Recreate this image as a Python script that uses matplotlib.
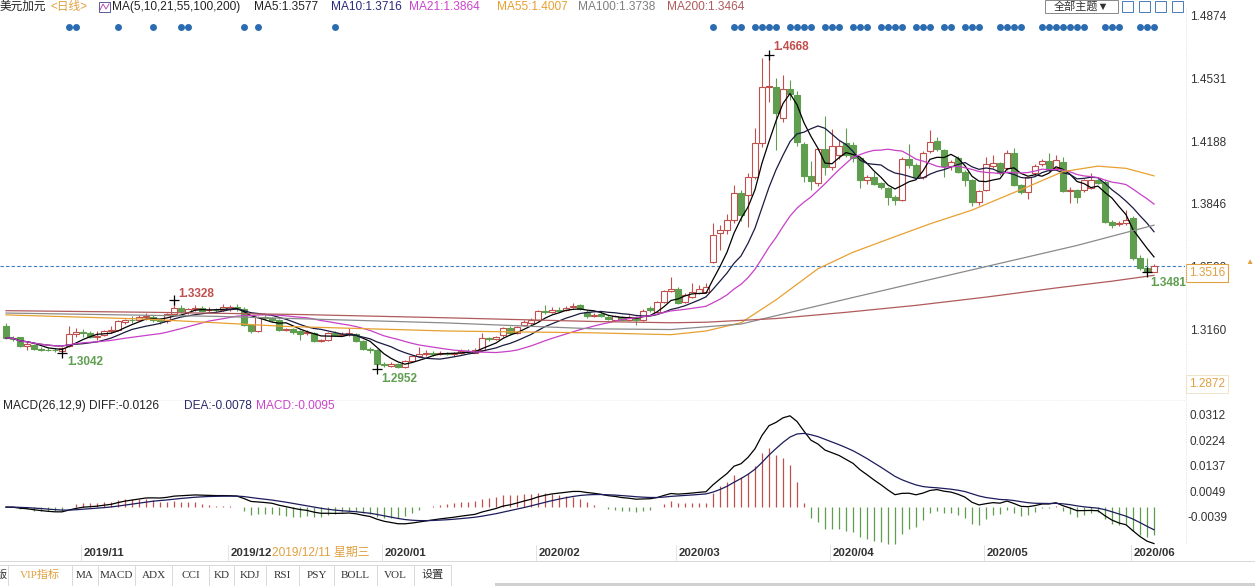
import numpy as np
import pandas as pd
import matplotlib
matplotlib.use("Agg")
import matplotlib.pyplot as plt
import matplotlib.transforms as mtransforms
from matplotlib.patches import Rectangle
from matplotlib.lines import Line2D

plt.rcParams['font.family'] = ['Liberation Sans', 'Noto Sans CJK SC', 'DejaVu Sans']

# ---- daily candles (USD/CAD) ----
opens = [
    1.3190, 1.3122, 1.3125, 1.3078, 1.3085, 1.3064, 1.3058, 1.3056, 1.3050, 1.3078,
    1.3145, 1.3152, 1.3150, 1.3130, 1.3138, 1.3160, 1.3168, 1.3208, 1.3220, 1.3220,
    1.3236, 1.3238, 1.3218, 1.3212, 1.3255, 1.3287, 1.3265, 1.3278, 1.3285, 1.3272,
    1.3276, 1.3272, 1.3280, 1.3290, 1.3282, 1.3195, 1.3162, 1.3235, 1.3232, 1.3222,
    1.3165, 1.3172, 1.3160, 1.3148, 1.3150, 1.3105, 1.3112, 1.3150, 1.3140, 1.3145,
    1.3142, 1.3105, 1.3062, 1.3058, 1.2978, 1.2970, 1.2980, 1.2965, 1.2995, 1.3022,
    1.3035, 1.3040, 1.3035, 1.3040, 1.3032, 1.3038, 1.3052, 1.3042, 1.3056, 1.3120,
    1.3116, 1.3138, 1.3178, 1.3150, 1.3193, 1.3202, 1.3220, 1.3270, 1.3266, 1.3275,
    1.3275, 1.3290, 1.3302, 1.3266, 1.3240, 1.3252, 1.3238, 1.3222, 1.3235, 1.3222,
    1.3236, 1.3222, 1.3283, 1.3266, 1.3320, 1.3380, 1.3392, 1.3320, 1.3347, 1.3365,
    1.3374, 1.3538, 1.3693, 1.3711, 1.3766, 1.3911, 1.3900, 1.4002, 1.4184, 1.4493,
    1.4494, 1.4325, 1.4480, 1.4448, 1.4180, 1.4006, 1.3968, 1.4153, 1.4054, 1.4120,
    1.4184, 1.4175, 1.4102, 1.3984, 1.4002, 1.3966, 1.3938, 1.3893, 1.3875, 1.4100,
    1.4065, 1.3998, 1.4140, 1.4199, 1.4148, 1.4060, 1.4102, 1.4030, 1.3984, 1.3866,
    1.3930, 1.4060, 1.4075, 1.4048, 1.4130, 1.3957, 1.3920, 1.4020, 1.4070, 1.4090,
    1.4048, 1.4084, 1.3926, 1.3930, 1.3928, 1.3940, 1.3984, 1.3975, 1.3756, 1.3745,
    1.3748, 1.3775, 1.3556, 1.3502, 1.3484,
]
highs = [
    1.3205, 1.3135, 1.3130, 1.3100, 1.3090, 1.3075, 1.3068, 1.3065, 1.3075, 1.3185,
    1.3175, 1.3170, 1.3158, 1.3160, 1.3168, 1.3185, 1.3218, 1.3228, 1.3240, 1.3245,
    1.3260, 1.3245, 1.3225, 1.3260, 1.3328, 1.3300, 1.3285, 1.3300, 1.3298, 1.3290,
    1.3288, 1.3305, 1.3300, 1.3310, 1.3290, 1.3198, 1.3240, 1.3250, 1.3238, 1.3228,
    1.3178, 1.3178, 1.3165, 1.3165, 1.3155, 1.3118, 1.3155, 1.3158, 1.3152, 1.3175,
    1.3148, 1.3110, 1.3075, 1.3062, 1.2992, 1.2990, 1.2985, 1.3000, 1.3028, 1.3070,
    1.3058, 1.3050, 1.3052, 1.3048, 1.3048, 1.3060, 1.3062, 1.3065, 1.3147, 1.3130,
    1.3135, 1.3180, 1.3185, 1.3190, 1.3218, 1.3230, 1.3275, 1.3300, 1.3290, 1.3290,
    1.3295, 1.3313, 1.3308, 1.3272, 1.3258, 1.3262, 1.3245, 1.3248, 1.3242, 1.3245,
    1.3240, 1.3278, 1.3295, 1.3325, 1.3385, 1.3453, 1.3400, 1.3365, 1.3420, 1.3410,
    1.3423, 1.3751, 1.3740, 1.3800, 1.3957, 1.3930, 1.4020, 1.4266, 1.4650, 1.4668,
    1.4540, 1.4555, 1.4530, 1.4470, 1.4190, 1.4090, 1.4160, 1.4334, 1.4261, 1.4200,
    1.4266, 1.4190, 1.4110, 1.4010, 1.4030, 1.3975, 1.3945, 1.3900, 1.4110, 1.4180,
    1.4075, 1.4140, 1.4257, 1.4220, 1.4155, 1.4095, 1.4115, 1.4040, 1.3990, 1.3930,
    1.4110, 1.4120, 1.4085, 1.4150, 1.4160, 1.3965, 1.4000, 1.4070, 1.4100, 1.4130,
    1.4120, 1.4110, 1.3945, 1.3935, 1.3990, 1.4020, 1.3995, 1.3985, 1.3765, 1.3760,
    1.3820, 1.3790, 1.3575, 1.3560, 1.3525,
]
lows = [
    1.3115, 1.3108, 1.3072, 1.3057, 1.3058, 1.3050, 1.3050, 1.3048, 1.3042, 1.3072,
    1.3128, 1.3130, 1.3120, 1.3110, 1.3132, 1.3150, 1.3160, 1.3200, 1.3205, 1.3212,
    1.3222, 1.3210, 1.3200, 1.3205, 1.3250, 1.3260, 1.3255, 1.3268, 1.3262, 1.3262,
    1.3265, 1.3268, 1.3270, 1.3270, 1.3188, 1.3150, 1.3155, 1.3220, 1.3210, 1.3158,
    1.3158, 1.3145, 1.3110, 1.3140, 1.3098, 1.3100, 1.3108, 1.3132, 1.3135, 1.3132,
    1.3098, 1.3055, 1.3040, 1.2952, 1.2962, 1.2962, 1.2960, 1.2958, 1.2990, 1.3018,
    1.3025, 1.3025, 1.3030, 1.3028, 1.3025, 1.3032, 1.3040, 1.3038, 1.3050, 1.3105,
    1.3110, 1.3130, 1.3140, 1.3145, 1.3185, 1.3195, 1.3215, 1.3255, 1.3260, 1.3262,
    1.3268, 1.3283, 1.3272, 1.3232, 1.3235, 1.3235, 1.3218, 1.3215, 1.3215, 1.3215,
    1.3192, 1.3215, 1.3265, 1.3260, 1.3315, 1.3372, 1.3305, 1.3312, 1.3340, 1.3360,
    1.3365, 1.3530, 1.3600, 1.3690, 1.3750, 1.3760, 1.3730, 1.3990, 1.4166, 1.4410,
    1.4150, 1.4300, 1.4420, 1.4170, 1.3975, 1.3930, 1.3950, 1.4010, 1.4040, 1.4100,
    1.4110, 1.4080, 1.3940, 1.3960, 1.3955, 1.3935, 1.3850, 1.3850, 1.3870, 1.4050,
    1.3990, 1.3990, 1.4130, 1.4140, 1.4000, 1.4040, 1.4020, 1.3950, 1.3840, 1.3850,
    1.3925, 1.4050, 1.4010, 1.4040, 1.3950, 1.3910, 1.3880, 1.4010, 1.4060, 1.4030,
    1.4040, 1.3920, 1.3860, 1.3860, 1.3920, 1.3935, 1.3960, 1.3750, 1.3720, 1.3735,
    1.3740, 1.3550, 1.3495, 1.3481, 1.3490,
]
closes = [
    1.3122, 1.3118, 1.3078, 1.3088, 1.3062, 1.3058, 1.3055, 1.3054, 1.3068, 1.3145,
    1.3152, 1.3148, 1.3130, 1.3135, 1.3160, 1.3165, 1.3212, 1.3220, 1.3218, 1.3236,
    1.3240, 1.3218, 1.3212, 1.3252, 1.3285, 1.3268, 1.3278, 1.3284, 1.3270, 1.3276,
    1.3273, 1.3290, 1.3290, 1.3283, 1.3195, 1.3160, 1.3235, 1.3232, 1.3222, 1.3165,
    1.3170, 1.3152, 1.3145, 1.3152, 1.3105, 1.3112, 1.3148, 1.3140, 1.3145, 1.3150,
    1.3105, 1.3062, 1.3058, 1.2978, 1.2975, 1.2982, 1.2965, 1.2995, 1.3022, 1.3035,
    1.3040, 1.3035, 1.3040, 1.3036, 1.3040, 1.3052, 1.3050, 1.3056, 1.3120, 1.3118,
    1.3129, 1.3175, 1.3147, 1.3184, 1.3211, 1.3220, 1.3269, 1.3266, 1.3272, 1.3270,
    1.3287, 1.3296, 1.3278, 1.3240, 1.3250, 1.3240, 1.3223, 1.3240, 1.3220, 1.3238,
    1.3222, 1.3270, 1.3272, 1.3320, 1.3380, 1.3392, 1.3311, 1.3356, 1.3374, 1.3392,
    1.3398, 1.3684, 1.3711, 1.3766, 1.3911, 1.3793, 1.4002, 1.4184, 1.4493, 1.4500,
    1.4352, 1.4480, 1.4455, 1.4190, 1.4006, 1.3980, 1.4153, 1.4055, 1.4171, 1.4170,
    1.4120, 1.4102, 1.3984, 1.4002, 1.3962, 1.3944, 1.3893, 1.3875, 1.4097, 1.4065,
    1.3998, 1.4133, 1.4193, 1.4151, 1.4060, 1.4084, 1.4030, 1.3984, 1.3866, 1.3926,
    1.4071, 1.4075, 1.4020, 1.4130, 1.3957, 1.3920, 1.3998, 1.4060, 1.4090, 1.4042,
    1.4093, 1.3926, 1.3930, 1.3890, 1.3984, 1.3984, 1.3966, 1.3756, 1.3738, 1.3752,
    1.3765, 1.3556, 1.3502, 1.3484, 1.3516,
]

# long moving averages (their history starts before the visible window), read at a few candles
ma55_idx = [0, 20, 40, 63, 84, 95, 100, 105, 110, 116, 121, 127, 132, 138, 146, 151, 156, 160, 164]
ma55_val = [1.3248, 1.3225, 1.3185, 1.3160, 1.3150, 1.3140, 1.3160, 1.3205, 1.3330, 1.3500,
            1.3590, 1.3675, 1.3745, 1.3820, 1.3948, 1.4030, 1.4060, 1.4048, 1.4007]
ma100_idx = [0, 30, 63, 84, 95, 105, 121, 137, 153, 164]
ma100_val = [1.3258, 1.3240, 1.3204, 1.3172, 1.3168, 1.3198, 1.3343, 1.3485, 1.3627, 1.3738]
ma200_idx = [0, 21, 42, 63, 84, 95, 100, 110, 120, 130, 140, 150, 158, 164]
ma200_val = [1.3271, 1.3262, 1.3250, 1.3232, 1.3212, 1.3205, 1.3208, 1.3228, 1.3262, 1.3300,
             1.3345, 1.3395, 1.3432, 1.3464]

# candles that carry an event dot in the top strip
dot_idx = [9, 10, 16, 21, 25, 26, 34, 36, 47, 101, 104, 105, 107, 108, 109, 110, 112, 113, 114, 115,
           117, 118, 119, 121, 122, 123, 125, 126, 127, 128, 130, 131, 132, 134, 135, 137, 138, 139,
           142, 143, 144, 145, 148, 149, 150, 151, 152, 153, 154, 157, 158, 159, 162, 163, 164]

month_idx = [11, 32, 54, 76, 96, 118, 140, 161]
month_lbl = ['2019/11', '2019/12', '2020/01', '2020/02', '2020/03', '2020/04', '2020/05', '2020/06']

price_ticks = [1.4874, 1.4531, 1.4188, 1.3846, 1.3503, 1.3160]
macd_ticks = [0.0312, 0.0224, 0.0137, 0.0049, -0.0039]

RED = '#c0504d'
GREEN = '#5f9e4f'
ORANGE = '#e0a040'

W, H = 1255, 586


def fy(y):
    return 1 - y / H


def fx(x):
    return x / W


fig = plt.figure(figsize=(W / 100, H / 100), dpi=100)
fig.patch.set_facecolor('white')

ax1 = fig.add_axes([0, fy(395), 1185 / W, 395 / H])
ax2 = fig.add_axes([0, fy(545), 1185 / W, 145 / H])
for ax in (ax1, ax2):
    ax.set_xlim(-0.857, 168.43)
    ax.axis('off')
ax1.set_ylim(1.28107, 1.49668)
ax2.set_ylim(-0.01298, 0.03668)

n = len(closes)
x = np.arange(n)

# candles
for i in range(n):
    o, h, l, c = opens[i], highs[i], lows[i], closes[i]
    up = c >= o
    col = RED if up else GREEN
    ax1.vlines(i, l, h, color=col, lw=0.8, zorder=2)
    ax1.add_patch(Rectangle((i - 0.36, min(o, c)), 0.72, max(abs(c - o), 0.00025),
                            facecolor='white' if up else col, edgecolor=col, lw=0.8, zorder=3))

# moving averages
s = pd.Series(closes)
ax1.plot(x, s.rolling(5, min_periods=1).mean(), color='black', lw=0.9, zorder=4)
ax1.plot(x, s.rolling(10, min_periods=1).mean(), color='#1a1a40', lw=0.9, zorder=4)
ax1.plot(x, s.rolling(21, min_periods=1).mean(), color='#c840c8', lw=0.9, zorder=4)
ax1.plot(ma55_idx, ma55_val, color='#e8a030', lw=0.9, zorder=4)
ax1.plot(ma100_idx, ma100_val, color='#8a8a8a', lw=0.9, zorder=4)
ax1.plot(ma200_idx, ma200_val, color='#b05a5a', lw=0.9, zorder=4)

# current price line
ax1.axhline(closes[-1], color='#3d7cc9', lw=0.8, ls=(0, (3, 2)), zorder=1)

# extreme marks
def mark(i, val, dx, dy, col):
    ax1.plot(i, val, marker='+', color='black', ms=7, mew=0.9, zorder=6)
    tr = mtransforms.offset_copy(ax1.transData, fig=fig, x=dx, y=dy, units='dots')
    ax1.text(i, val, f'{val:.4f}', transform=tr, color=col, fontsize=8.5,
             fontweight='bold', ha='left', va='center', zorder=6)

mark(int(np.argmax(highs)), max(highs), 4, 8, RED)
mark(24, highs[24], 4, 6, RED)
mark(8, lows[8], 5, -9, GREEN)
mark(53, lows[53], 4, -10, GREEN)
mark(163, lows[163], 3, -11, GREEN)

# event dots
dot_tr = mtransforms.blended_transform_factory(ax1.transData, fig.transFigure)
ax1.plot(dot_idx, [fy(27)] * len(dot_idx), 'o', color='#2b6cb0', ms=5, mew=0,
         transform=dot_tr, clip_on=False)

# right price scale
ytr1 = mtransforms.blended_transform_factory(ax1.transAxes, ax1.transData)
for t in price_ticks:
    ax1.text(1190 / 1185, t, f'{t:.4f}', transform=ytr1, fontsize=8.5, color='#333333',
             ha='left', va='center', clip_on=False, zorder=1)
box_tr = mtransforms.offset_copy(ytr1, fig=fig, x=0, y=-7, units='dots')
ax1.text(1189 / 1185, closes[-1], f'{closes[-1]:.4f}', transform=box_tr, fontsize=8.5, color=ORANGE,
         ha='left', va='center', clip_on=False, zorder=5,
         bbox=dict(boxstyle='square,pad=0.25', fc='white', ec=ORANGE, lw=0.8))
ax1.text(1189 / 1185, 1.2872, '1.2872', transform=ytr1, fontsize=8.5, color=ORANGE,
         ha='left', va='center', clip_on=False,
         bbox=dict(boxstyle='square,pad=0.25', fc='white', ec='#f0e0c0', lw=0.6))
fig.text(fx(1249), fy(262), '▲', color=ORANGE, fontsize=6, ha='center', va='center')
fig.add_artist(Line2D([fx(1186), fx(1186)], [fy(8), fy(545)], color='#d8d8d8', lw=0.6, ls=':'))

# MACD panel
ema12 = s.ewm(span=12, adjust=False).mean()
ema26 = s.ewm(span=26, adjust=False).mean()
diff = ema12 - ema26
dea = diff.ewm(span=9, adjust=False).mean()
hist = 2 * (diff - dea)
ax2.vlines(x, 0, hist, colors=[RED if v >= 0 else GREEN for v in hist], lw=0.9, zorder=2)
ax2.plot(x, diff, color='black', lw=0.9, zorder=3)
ax2.plot(x, dea, color='#1c1c5c', lw=0.9, zorder=3)
ytr2 = mtransforms.blended_transform_factory(ax2.transAxes, ax2.transData)
for t in macd_ticks:
    ax2.text(1190 / 1185 if t >= 0 else 1188 / 1185, t, f'{t:.4f}', transform=ytr2, fontsize=8.5,
             color='#333333', ha='left', va='center', clip_on=False)
fig.add_artist(Line2D([0, fx(1185)], [fy(400), fy(400)], color='#e6e6e6', lw=0.6, ls=':'))

# header
fig.text(fx(0), fy(7), '美元加元', fontsize=8.4, color='#222222', va='center', ha='left')
fig.text(fx(50), fy(7), '<日线>', fontsize=8.4, color=ORANGE, va='center', ha='left')
fig.add_artist(Rectangle((fx(99), fy(12)), fx(11), 10 / H, fill=False, ec='#5a5a9a', lw=0.7))
fig.add_artist(Line2D([fx(100), fx(103), fx(106), fx(109)], [fy(10), fy(4), fy(9), fy(4)],
                      color='#b050b0', lw=0.7))
header = [(112, 'MA(5,10,21,55,100,200)', '#222222'), (254, 'MA5:1.3577', '#222222'),
          (331, 'MA10:1.3716', '#2a2a7a'), (409, 'MA21:1.3864', '#cc44cc'),
          (497, 'MA55:1.4007', '#e8a030'), (578, 'MA100:1.3738', '#808080'),
          (667, 'MA200:1.3464', '#b05a5a')]
for px, txt, col in header:
    fig.text(fx(px), fy(7), txt, fontsize=8.6, color=col, va='center', ha='left')

fig.add_artist(Rectangle((fx(1045), fy(13)), fx(73), 13 / H, fill=False, ec='#888888', lw=0.7))
fig.text(fx(1081), fy(6.5), '全部主题▼', fontsize=8, color='#333333', ha='center', va='center')
for bx in [1122, 1139, 1155, 1172]:
    fig.add_artist(Rectangle((fx(bx), fy(12)), fx(11), 11 / H, fill=False, ec='#4a7ab8', lw=0.7))

fig.text(fx(3), fy(406), 'MACD(26,12,9) DIFF:-0.0126', fontsize=8.6, color='#222222', va='center')
fig.text(fx(184), fy(406), 'DEA:-0.0078', fontsize=8.6, color='#2a2a6a', va='center')
fig.text(fx(256), fy(406), 'MACD:-0.0095', fontsize=8.6, color='#cc44cc', va='center')

# date row
xtr = mtransforms.blended_transform_factory(ax2.transData, fig.transFigure)
for mi, lbl in zip(month_idx, month_lbl):
    fig.add_artist(Line2D([mi - 0.3, mi - 0.3], [fy(545), fy(560)], color='#e3e3e3', lw=0.7,
                          transform=xtr))
    fig.text(mi + 1 / 7, fy(553), lbl, transform=xtr, fontsize=8.2, fontweight='bold',
             color='#333333', ha='left', va='center')
fig.text(fx(272), fy(553), '2019/12/11 星期三', fontsize=8.6, color=ORANGE, ha='left', va='center',
         bbox=dict(boxstyle='square,pad=0.1', fc='white', ec='none'))
fig.add_artist(Line2D([0, 1], [fy(561), fy(561)], color='#d8d8d8', lw=0.7))

# bottom tool bar
seps = [8, 72, 98, 135, 172, 209, 234, 266, 299, 334, 377, 414, 451]
tools = ['VIP指标', 'MA', 'MACD', 'ADX', 'CCI', 'KD', 'KDJ', 'RSI', 'PSY', 'BOLL', 'VOL', '设置']
for sx in seps:
    fig.add_artist(Line2D([fx(sx), fx(sx)], [fy(565), fy(586)], color='#d8d8d8', lw=0.7))
fig.add_artist(Line2D([0, fx(451)], [fy(565), fy(565)], color='#d8d8d8', lw=0.7))
for k, t in enumerate(tools):
    cx = (seps[k] + seps[k + 1]) / 2
    fig.text(fx(cx), fy(575), t, fontsize=8, color=ORANGE if k == 0 else '#333333',
             family=['Liberation Serif', 'Noto Sans CJK SC'], ha='center', va='center')
fig.text(fx(-4), fy(575), '版', fontsize=8, color='#333333', ha='left', va='center')
fig.add_artist(Rectangle((fx(495), 0), fx(760), 3 / H, color='#d0d0d0', lw=0))

fig.savefig('out.png', dpi=100, facecolor='white')
